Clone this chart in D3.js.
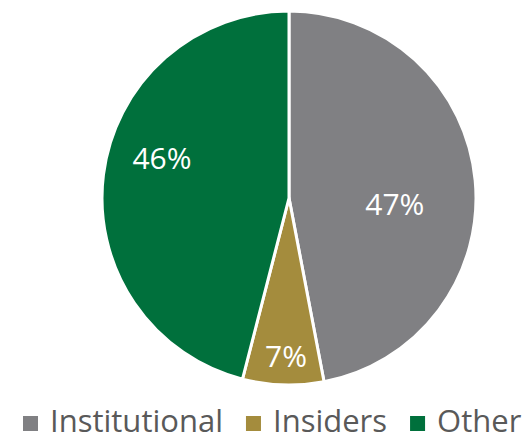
<!DOCTYPE html>
<html>
<head>
<meta charset="utf-8">
<script src="https://cdn.jsdelivr.net/npm/d3@7"></script>
<style>
  html, body { margin: 0; padding: 0; background: #fff; }
  svg { display: block; font-family: "Open Sans", "Noto Sans", sans-serif; }
</style>
</head>
<body>
<svg id="chart" width="526" height="434"></svg>
<script>
const categories = ["Institutional", "Insiders", "Other"];
const values = [47, 7, 46];
const labels = ["47%", "7%", "46%"];
const colors = ["#808083", "#a48c3d", "#00703c"];

// label placement tweaks (angle shift in degrees, radius)
const labelAngleShift = [9, -0.7, 10];
const labelRadius = [106, 158, 133];

const svg = d3.select("#chart");
const cx = 289, cy = 198, r = 187;

const pie = d3.pie().sort(null).value(d => d)(values);
const arc = d3.arc().innerRadius(0).outerRadius(r);

const g = svg.append("g").attr("transform", `translate(${cx},${cy})`);

g.selectAll("path.slice")
  .data(pie)
  .join("path")
  .attr("class", "slice")
  .attr("d", arc)
  .attr("fill", (d, i) => colors[i])
  .attr("stroke", "#fff")
  .attr("stroke-width", 3)
  .attr("stroke-linejoin", "round");

g.selectAll("text.lbl")
  .data(pie)
  .join("text")
  .attr("class", "lbl")
  .attr("transform", (d, i) => {
    const a = (d.startAngle + d.endAngle) / 2 + labelAngleShift[i] * Math.PI / 180;
    const rr = labelRadius[i];
    return `translate(${Math.sin(a) * rr},${-Math.cos(a) * rr})`;
  })
  .attr("text-anchor", "middle")
  .attr("dy", "0.36em")
  .attr("fill", "#fff")
  .attr("font-size", 30)
  .text((d, i) => labels[i]);

// legend
const legend = svg.append("g").attr("class", "legend");
let x = 23;
const baseline = 432;
categories.forEach((c, i) => {
  legend.append("rect")
    .attr("x", x).attr("y", 416)
    .attr("width", 15).attr("height", 15)
    .attr("fill", colors[i]);
  const t = legend.append("text")
    .attr("x", x + 27).attr("y", baseline)
    .attr("fill", "#595959")
    .attr("font-size", 31)
    .text(c);
  const w = t.node().getComputedTextLength();
  x = x + 27 + w + 23;
});
</script>
</body>
</html>
